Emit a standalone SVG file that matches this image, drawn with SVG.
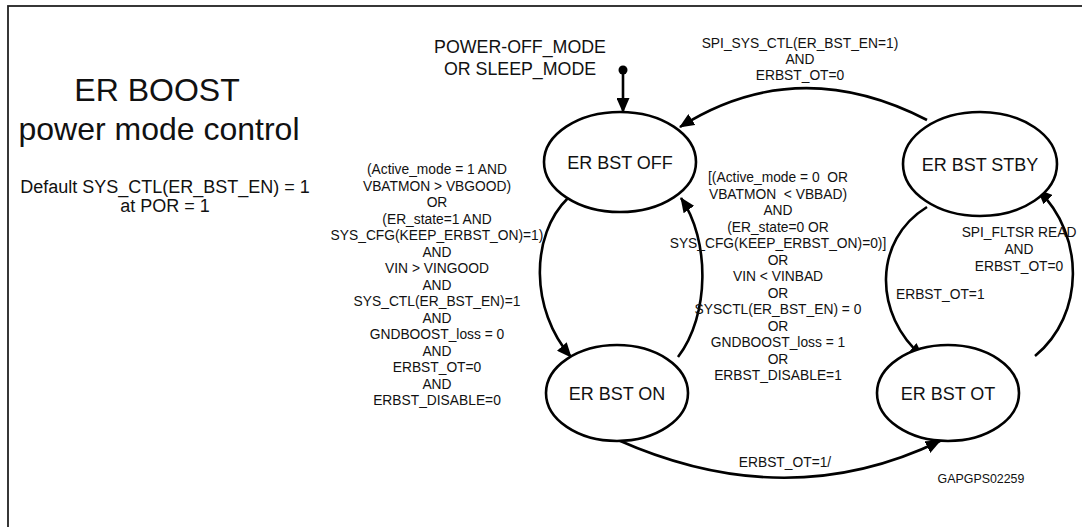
<svg xmlns="http://www.w3.org/2000/svg" width="1082" height="527" viewBox="0 0 1082 527">
<style>
text{font-family:"Liberation Sans",Arial,sans-serif;fill:#111}
.node{fill:#fff;stroke:#000;stroke-width:2.6}
.lbl{font-size:18px;text-anchor:middle}
.c{font-size:13.8px;text-anchor:middle}
.edge{fill:none;stroke:#000;stroke-width:2.6}
</style>
<defs>
<marker id="ah" markerUnits="userSpaceOnUse" markerWidth="15" markerHeight="13" viewBox="0 0 15 13" refX="14" refY="6.5" orient="auto">
<path d="M0,0 L15,6.5 L0,13 z" fill="#000"/>
</marker>
</defs>
<rect x="8" y="6" width="1100" height="600" fill="#fff" stroke="#222" stroke-width="1.8"/>
<g id="title">
<text x="157" y="101" style="font-size:32px;text-anchor:middle">ER BOOST</text>
<text x="159" y="140" style="font-size:32px;text-anchor:middle">power mode control</text>
<text x="165" y="193" style="font-size:18px;text-anchor:middle">Default SYS_CTL(ER_BST_EN) = 1</text>
<text x="165" y="212" style="font-size:18px;text-anchor:middle">at POR = 1</text>
</g>
<g id="connectors">
<circle cx="623" cy="70" r="4.5" fill="#000"/>
<path class="edge" d="M623 70 L623 112" marker-end="url(#ah)"/>
<path class="edge" d="M927 120 Q797 53 680 127" marker-end="url(#ah)"/>
<path class="edge" d="M568 198 C530 235 530 310 571 357" marker-end="url(#ah)"/>
<path class="edge" d="M678 357 C710 315 710 240 681 198" marker-end="url(#ah)"/>
<path class="edge" d="M927 207 C873 240 873 315 923 357" marker-end="url(#ah)"/>
<path class="edge" d="M1035 356 C1085 315 1085 235 1038 190" marker-end="url(#ah)"/>
<path class="edge" d="M618 440 Q787 515 940 441" marker-end="url(#ah)"/>
<text x="520" y="53" style="font-size:17.8px;text-anchor:middle">POWER-OFF_MODE</text>
<text x="520" y="75" style="font-size:17.8px;text-anchor:middle">OR SLEEP_MODE</text>
<g class="c">
<text x="800" y="48">SPI_SYS_CTL(ER_BST_EN=1)</text>
<text x="800" y="64">AND</text>
<text x="800" y="80">ERBST_OT=0</text>
</g>
<g class="c">
<text x="437" y="174">(Active_mode = 1 AND</text>
<text x="437" y="190.5">VBATMON &gt; VBGOOD)</text>
<text x="437" y="207">OR</text>
<text x="437" y="223.5">(ER_state=1 AND</text>
<text x="437" y="240">SYS_CFG(KEEP_ERBST_ON)=1)</text>
<text x="437" y="256.5">AND</text>
<text x="437" y="273">VIN &gt; VINGOOD</text>
<text x="437" y="289.5">AND</text>
<text x="437" y="306">SYS_CTL(ER_BST_EN)=1</text>
<text x="437" y="322.5">AND</text>
<text x="437" y="339">GNDBOOST_loss = 0</text>
<text x="437" y="355.5">AND</text>
<text x="437" y="372">ERBST_OT=0</text>
<text x="437" y="388.5">AND</text>
<text x="437" y="405">ERBST_DISABLE=0</text>
</g>
<g class="c">
<text x="778" y="182">[(Active_mode = 0 &#160;OR</text>
<text x="778" y="198.5">VBATMON &#160;&lt; VBBAD)</text>
<text x="778" y="215">AND</text>
<text x="778" y="231.5">(ER_state=0 OR</text>
<text x="778" y="248">SYS_CFG(KEEP_ERBST_ON)=0)]</text>
<text x="778" y="264.5">OR</text>
<text x="778" y="281">VIN &lt; VINBAD</text>
<text x="778" y="297.5">OR</text>
<text x="778" y="314">SYSCTL(ER_BST_EN) = 0</text>
<text x="778" y="330.5">OR</text>
<text x="778" y="347">GNDBOOST_loss = 1</text>
<text x="778" y="363.5">OR</text>
<text x="778" y="380">ERBST_DISABLE=1</text>
</g>
<g class="c">
<text x="1019" y="237">SPI_FLTSR READ</text>
<text x="1019" y="254">AND</text>
<text x="1019" y="271">ERBST_OT=0</text>
</g>
<text x="896" y="299" style="font-size:13.8px">ERBST_OT=1</text>
<text x="785" y="467" class="c">ERBST_OT=1/</text>
<text x="981" y="483" style="font-size:12.4px;text-anchor:middle">GAPGPS02259</text>
</g>
<g id="off"><ellipse class="node" cx="620" cy="162" rx="76" ry="50"/><text class="lbl" x="620" y="168.5">ER BST OFF</text></g>
<g id="stby"><ellipse class="node" cx="980" cy="164" rx="77" ry="52"/><text class="lbl" x="980" y="170.5">ER BST STBY</text></g>
<g id="on"><ellipse class="node" cx="617" cy="393" rx="71" ry="48"/><text class="lbl" x="617" y="399.5">ER BST ON</text></g>
<g id="ot"><ellipse class="node" cx="948" cy="393" rx="71" ry="48"/><text class="lbl" x="948" y="399.5">ER BST OT</text></g>
</svg>
